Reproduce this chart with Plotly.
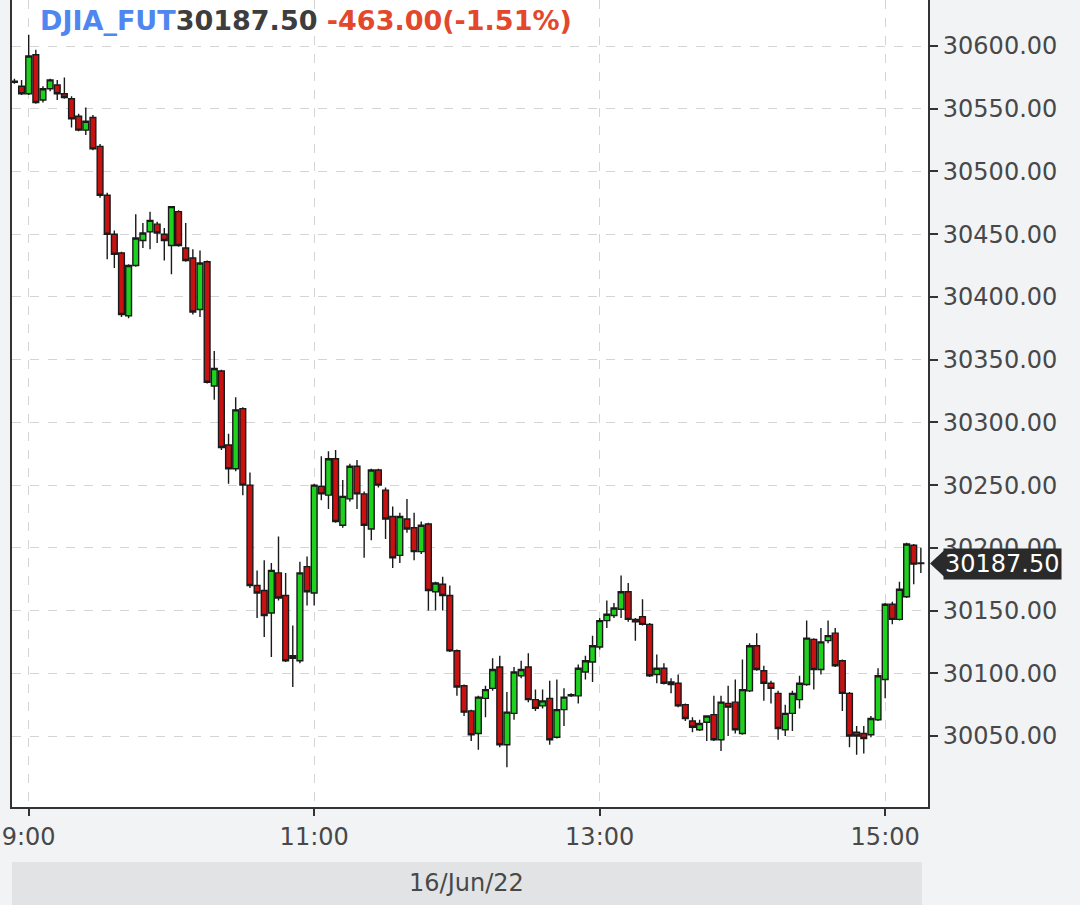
import pandas as pd
import plotly.graph_objects as go

symbol = "DJIA_FUT"
session_date = "16/Jun/22"
first_bar = "2022-06-16 08:54"
bar_minutes = 3
change_abs = -463.00
change_pct = -1.51
y_tick_values = list(range(30050, 30601, 50))

opens = [30572, 30568, 30562, 30593, 30557, 30566, 30569, 30562, 30558, 30544,
         30533, 30543, 30520, 30481, 30450, 30435, 30385, 30425, 30445, 30452,
         30458, 30450, 30441, 30468, 30439, 30431, 30390, 30428, 30329, 30341,
         30282, 30263, 30311, 30250, 30170, 30166, 30148, 30180, 30162, 30114,
         30110, 30185, 30164, 30249, 30242, 30271, 30218, 30239, 30265, 30243,
         30215, 30262, 30246, 30225, 30194, 30223, 30216, 30197, 30219, 30165,
         30171, 30162, 30118, 30090, 30070, 30052, 30080, 30088, 30105, 30043,
         30068, 30098, 30105, 30079, 30074, 30080, 30049, 30071, 30082, 30082,
         30101, 30109, 30121, 30142, 30146, 30151, 30165, 30143, 30145, 30139,
         30099, 30104, 30093, 30092, 30075, 30062, 30055, 30061, 30067, 30047,
         30076, 30077, 30052, 30086, 30122, 30102, 30092, 30084, 30055, 30068,
         30079, 30091, 30127, 30103, 30126, 30132, 30110, 30084, 30053, 30052,
         30051, 30063, 30095, 30155, 30143, 30161, 30202, 30188]
highs = [30574, 30573, 30609, 30597, 30568, 30574, 30573, 30575, 30560, 30546,
         30551, 30545, 30522, 30483, 30453, 30436, 30426, 30466, 30459, 30468,
         30460, 30455, 30472, 30469, 30459, 30438, 30437, 30429, 30357, 30342,
         30291, 30320, 30312, 30260, 30182, 30190, 30188, 30209, 30180, 30138,
         30189, 30193, 30251, 30273, 30277, 30278, 30254, 30267, 30270, 30245,
         30263, 30263, 30248, 30233, 30228, 30239, 30228, 30221, 30220, 30173,
         30177, 30170, 30119, 30091, 30071, 30082, 30090, 30112, 30114, 30085,
         30105, 30110, 30116, 30087, 30087, 30094, 30095, 30088, 30084, 30107,
         30114, 30130, 30144, 30158, 30156, 30178, 30172, 30144, 30159, 30140,
         30115, 30108, 30096, 30099, 30076, 30065, 30063, 30066, 30082, 30082,
         30090, 30095, 30111, 30124, 30132, 30106, 30094, 30086, 30075, 30086,
         30098, 30142, 30128, 30136, 30142, 30136, 30111, 30085, 30058, 30058,
         30066, 30104, 30156, 30157, 30173, 30204, 30203, 30200]
lows = [30570, 30561, 30561, 30554, 30555, 30564, 30557, 30558, 30535, 30532,
        30529, 30517, 30479, 30430, 30423, 30384, 30383, 30424, 30439, 30438,
        30443, 30429, 30418, 30440, 30428, 30386, 30384, 30331, 30318, 30278,
        30251, 30261, 30242, 30168, 30144, 30129, 30113, 30158, 30109, 30089,
        30108, 30154, 30154, 30238, 30231, 30220, 30216, 30237, 30231, 30192,
        30206, 30248, 30207, 30184, 30188, 30212, 30190, 30195, 30150, 30150,
        30150, 30117, 30082, 30066, 30046, 30039, 30065, 30086, 30041, 30025,
        30063, 30096, 30077, 30070, 30072, 30043, 30048, 30058, 30081, 30076,
        30095, 30093, 30119, 30136, 30144, 30144, 30141, 30126, 30138, 30097,
        30092, 30091, 30084, 30073, 30062, 30053, 30054, 30046, 30046, 30038,
        30050, 30052, 30051, 30085, 30102, 30078, 30076, 30047, 30050, 30054,
        30072, 30090, 30087, 30099, 30124, 30105, 30070, 30041, 30035, 30036,
        30049, 30062, 30080, 30139, 30142, 30160, 30171, 30180]
closes = [30571, 30562, 30592, 30555, 30566, 30573, 30562, 30559, 30542, 30533,
          30540, 30518, 30481, 30450, 30434, 30386, 30425, 30447, 30451, 30461,
          30451, 30445, 30472, 30441, 30429, 30388, 30427, 30332, 30343, 30280,
          30263, 30310, 30250, 30170, 30164, 30146, 30182, 30160, 30110, 30112,
          30180, 30165, 30250, 30243, 30271, 30221, 30241, 30265, 30243, 30218,
          30262, 30250, 30223, 30192, 30225, 30215, 30197, 30218, 30166, 30172,
          30162, 30118, 30089, 30069, 30051, 30081, 30087, 30103, 30043, 30069,
          30101, 30103, 30079, 30072, 30078, 30047, 30071, 30081, 30083, 30104,
          30110, 30122, 30142, 30147, 30152, 30165, 30143, 30141, 30139, 30098,
          30104, 30092, 30091, 30074, 30064, 30057, 30060, 30066, 30047, 30077,
          30073, 30055, 30087, 30122, 30103, 30092, 30088, 30056, 30068, 30084,
          30092, 30128, 30103, 30125, 30130, 30106, 30084, 30050, 30050, 30048,
          30064, 30098, 30155, 30143, 30167, 30203, 30187, 30187.5]

times = pd.date_range(start=first_bar, periods=len(opens), freq=f"{bar_minutes}min")

FONT = "DejaVu Sans"
TXT = "#484848"
GRID = "#d4d4d4"
AXIS = "#333333"

fig = go.Figure()
fig.add_trace(go.Candlestick(
    x=times, open=opens, high=highs, low=lows, close=closes,
    increasing=dict(fillcolor="#1fd11f", line=dict(color="#1a1a1a", width=1.4)),
    decreasing=dict(fillcolor="#c81212", line=dict(color="#1a1a1a", width=1.4)),
    whiskerwidth=0, showlegend=False, hoverinfo="skip",
))

last = closes[-1]
title_html = (f"<b><span style='color:#4f86f0'>{symbol}</span>"
              f"<span style='color:#3d3d3d'>{last:.2f}</span> "
              f"<span style='color:#e3482c'>{change_abs:.2f}({change_pct:.2f}%)</span></b>")

fig.add_annotation(text=title_html, xref="paper", yref="paper", x=0.0284, y=0.975,
                   xanchor="left", yanchor="middle", showarrow=False,
                   font=dict(family=FONT, size=27))

fig.add_annotation(text=f"{last:.2f}", xref="paper", yref="y", x=1, y=last,
                   xanchor="left", yanchor="middle", xshift=15, showarrow=False,
                   bgcolor="#2a2a2a", borderpad=1,
                   font=dict(family=FONT, size=24, color="white"))
fig.add_shape(type="path", xref="paper", yref="y", xsizemode="pixel", ysizemode="pixel",
              xanchor=1, yanchor=last, path="M 2,0 L 17,14 L 17,-14 Z",
              fillcolor="#2a2a2a", line=dict(width=0))

fig.add_shape(type="rect", xref="paper", yref="paper", x0=0, x1=0.9934,
              y0=-0.1214, y1=-0.0682, fillcolor="#e2e3e5", line=dict(width=0), layer="below")
fig.add_annotation(text=session_date, xref="paper", yref="paper", x=0.4967, y=-0.0942,
                   xanchor="center", yanchor="middle", showarrow=False,
                   font=dict(family=FONT, size=24, color=TXT))

fig.update_layout(
    width=1080, height=905, autosize=False,
    margin=dict(l=12, r=152, t=0, b=98, pad=0),
    paper_bgcolor="#f1f3f5", plot_bgcolor="white",
    boxgap=0.1, boxgroupgap=0.1,
    font=dict(family=FONT, size=24, color=TXT),
    xaxis=dict(
        type="date", range=["2022-06-16 08:52:59", "2022-06-16 15:18:00"],
        tick0="2022-06-16 09:00", dtick=2 * 3600 * 1000, tickformat="%-H:%M",
        ticks="outside", ticklen=7, tickwidth=1.5, tickcolor=AXIS,
        showline=True, linecolor=AXIS, linewidth=2,
        showgrid=True, gridcolor=GRID, griddash="dash", gridwidth=1,
        rangeslider=dict(visible=False), zeroline=False,
        tickfont=dict(family=FONT, size=24, color=TXT),
    ),
    yaxis=dict(
        side="right", range=[29993.4, 30636.7],
        tickmode="array", tickvals=y_tick_values, tickformat=".2f",
        ticks="outside", ticklen=8, tickwidth=1.5, tickcolor=AXIS,
        showline=True, linecolor=AXIS, linewidth=2, mirror=True,
        showgrid=True, gridcolor=GRID, griddash="dash", gridwidth=1, zeroline=False,
        tickfont=dict(family=FONT, size=24, color=TXT),
    ),
)

fig.write_html("out.html", config={"displayModeBar": False},
               post_script="document.body.style.margin='0';document.body.style.padding='0';")
